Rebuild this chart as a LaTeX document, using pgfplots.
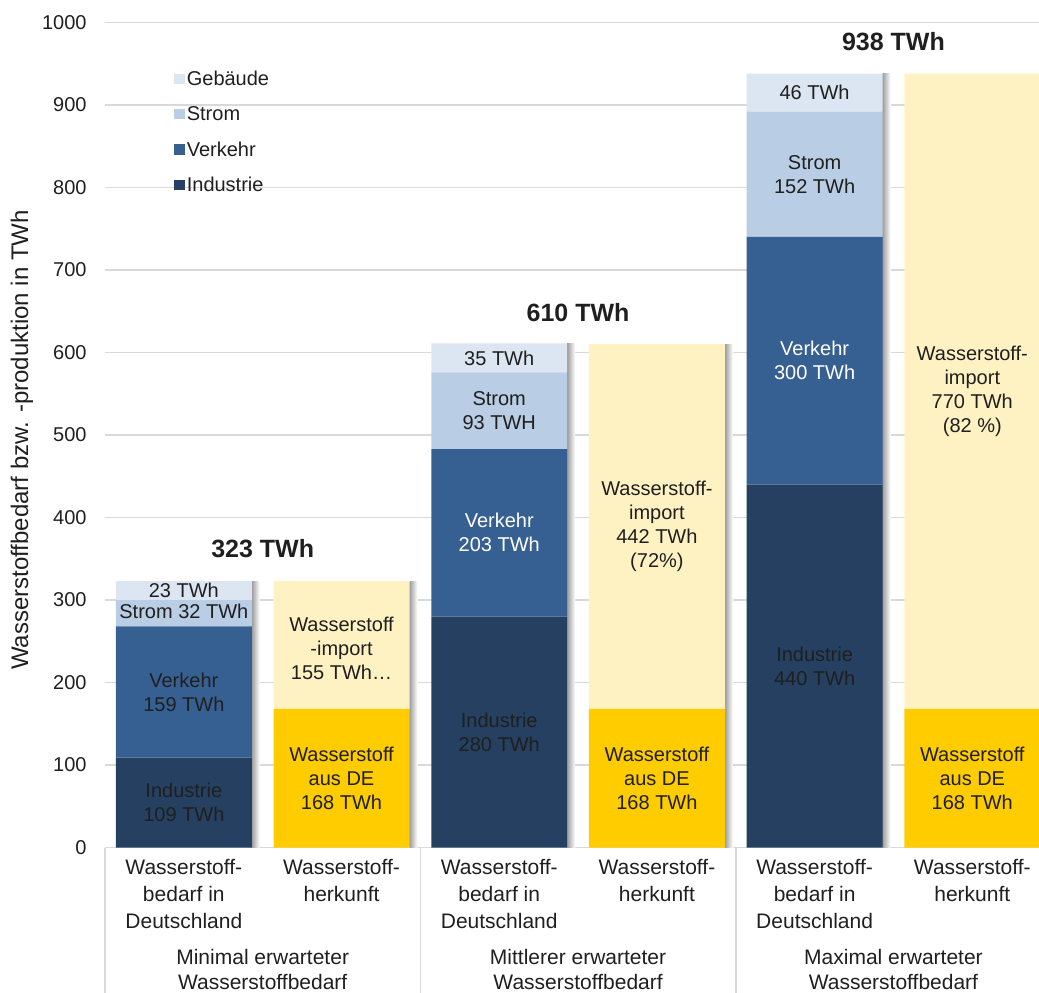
\documentclass[border=0pt]{standalone}
\usepackage{fontspec}
\setmainfont{Liberation Sans}
\usepackage{pgfplots}
\pgfplotsset{compat=1.18}

\definecolor{industrie}{HTML}{254061}
\definecolor{verkehr}{HTML}{376092}
\definecolor{strom}{HTML}{B9CDE5}
\definecolor{gebaeude}{HTML}{DCE6F2}
\definecolor{hde}{HTML}{FFCC00}
\definecolor{himport}{HTML}{FFF2C2}
\definecolor{gridgray}{HTML}{D9D9D9}
\definecolor{txt}{HTML}{1F1F1F}

\pgfplotsset{
  base/.style={
    at={(52.5pt,72.25pt)}, anchor=south west,
    scale only axis, width=467pt, height=412.5pt,
    xmin=-0.5, xmax=5.423, ymin=0, ymax=1000,
    clip=false, axis line style={draw=none}, major tick length=0pt},
  shadow/.style={draw=none, left color=black!38, right color=white,
    bar width=0.05, bar shift=0.456},
}

\begin{document}
\begin{tikzpicture}[
  lbl/.style={font=\fontsize{10}{12}\selectfont, align=center, text=txt, inner sep=0pt},
  wlbl/.style={lbl, text=white},
  grp/.style={font=\fontsize{10.5}{12.5}\selectfont, align=center, text=txt, inner sep=0pt, anchor=north},
  tot/.style={font=\fontsize{12.5}{14}\selectfont\bfseries, text=txt, inner sep=0pt}]
\useasboundingbox (0,0) rectangle (519.5pt,496pt);

% Hintergrund: Gitterlinien und Schatten rechts neben den Säulen
\begin{axis}[base,
  ytick={0,100,...,1000}, yticklabels={}, xtick=\empty,
  ymajorgrids, grid style={draw=gridgray, line width=0.8pt},
  ybar]
\addplot[shadow] coordinates {(0,323)};
\addplot[shadow] coordinates {(1,323)};
\addplot[shadow] coordinates {(2,611)};
\addplot[shadow] coordinates {(3,610)};
\addplot[shadow] coordinates {(4,938)};
\addplot[shadow] coordinates {(5,938)};
\end{axis}

% Säulen, Achsen und Legende
\begin{axis}[base,
  ybar stacked, bar width=0.862,
  tick pos=left,
  ytick={0,100,...,1000},
  yticklabel style={font=\fontsize{10}{12}\selectfont, text=txt, inner sep=0pt,
    anchor=east, xshift=-9pt, /pgf/number format/1000 sep={},
    /pgf/number format/assume math mode=true},
  xtick={0,...,5},
  xticklabels={{Wasserstoff-\\bedarf in\\Deutschland},{Wasserstoff-\\herkunft},
               {Wasserstoff-\\bedarf in\\Deutschland},{Wasserstoff-\\herkunft},
               {Wasserstoff-\\bedarf in\\Deutschland},{Wasserstoff-\\herkunft}},
  xticklabel style={font=\fontsize{10.5}{13.5}\selectfont, text=txt, align=center,
    anchor=north, inner sep=0pt, yshift=-5.5pt},
  extra x ticks={-0.5,1.5,3.5},
  extra x tick labels={},
  extra x tick style={major tick length=72.5pt, tick align=outside,
    tick style={draw=gridgray, line width=0.8pt}},
  ylabel={Wasserstoffbedarf bzw. -produktion in TWh},
  ylabel style={font=\fontsize{12}{14}\selectfont, text=txt,
    at={(axis description cs:-0.0889,0.494)}, anchor=center},
  reverse legend,
  legend image code/.code={\fill[#1] (0pt,-2.6pt) rectangle (5.2pt,2.6pt);},
  legend style={at={(axis description cs:0.0739,0.944)}, anchor=north west,
    draw=none, fill=none, inner sep=0pt, row sep=8pt,
    font=\fontsize{10}{12}\selectfont, text=txt,
    nodes={inner sep=1pt, text height=7.2pt, text depth=0.5pt},
    /tikz/every even column/.append style={column sep=2pt}},
  legend cell align=left,
]
% Bedarf nach Sektoren
\addplot[fill=industrie, draw=none] coordinates {(0,109) (1,0) (2,280) (3,0) (4,440) (5,0)};
\addlegendentry{Industrie}
\addplot[fill=verkehr, draw=none] coordinates {(0,159) (1,0) (2,203) (3,0) (4,300) (5,0)};
\addlegendentry{Verkehr}
\addplot[fill=strom, draw=none] coordinates {(0,32) (1,0) (2,93) (3,0) (4,152) (5,0)};
\addlegendentry{Strom}
\addplot[fill=gebaeude, draw=none] coordinates {(0,23) (1,0) (2,35) (3,0) (4,46) (5,0)};
\addlegendentry{Gebäude}
% Herkunft: heimische Erzeugung und Import
\addplot[fill=hde, draw=none, forget plot] coordinates {(0,0) (1,168) (2,0) (3,168) (4,0) (5,168)};
\addplot[fill=himport, draw=none, forget plot] coordinates {(0,0) (1,155) (2,0) (3,442) (4,0) (5,770)};
\end{axis}

% Beschriftungen über den Säulen
\begin{axis}[base, xtick=\empty, ytick=\empty]
\node[lbl] at (axis cs:0,54.5) {Industrie\\109 TWh};
\node[lbl] at (axis cs:0,188.5) {Verkehr\\159 TWh};
\node[lbl] at (axis cs:0,286) {Strom 32 TWh};
\node[lbl] at (axis cs:0,311.5) {23 TWh};
\node[lbl] at (axis cs:1,84) {Wasserstoff\\aus DE\\168 TWh};
\node[lbl] at (axis cs:1,241) {Wasserstoff\\-import\\155 TWh…};

\node[lbl] at (axis cs:2,140) {Industrie\\280 TWh};
\node[wlbl] at (axis cs:2,381.5) {Verkehr\\203 TWh};
\node[lbl] at (axis cs:2,529.5) {Strom\\93 TWH};
\node[lbl] at (axis cs:2,593.5) {35 TWh};
\node[lbl] at (axis cs:3,84) {Wasserstoff\\aus DE\\168 TWh};
\node[lbl] at (axis cs:3,389) {Wasserstoff-\\import\\442 TWh\\(72\%)};

\node[lbl] at (axis cs:4,220) {Industrie\\440 TWh};
\node[wlbl] at (axis cs:4,590) {Verkehr\\300 TWh};
\node[lbl] at (axis cs:4,816) {Strom\\152 TWh};
\node[lbl] at (axis cs:4,915) {46 TWh};
\node[lbl] at (axis cs:5,84) {Wasserstoff\\aus DE\\168 TWh};
\node[lbl] at (axis cs:5,553) {Wasserstoff-\\import\\770 TWh\\(82 \%)};

% Summen je Szenario
\node[tot] at (axis cs:0.5,323) [yshift=16pt] {323 TWh};
\node[tot] at (axis cs:2.5,610) [yshift=16pt] {610 TWh};
\node[tot] at (axis cs:4.5,938) [yshift=16pt] {938 TWh};

% Szenariobezeichnungen
\node[grp] at (axis cs:0.5,0) [yshift=-50.5pt] {Minimal erwarteter\\Wasserstoffbedarf};
\node[grp] at (axis cs:2.5,0) [yshift=-50.5pt] {Mittlerer erwarteter\\Wasserstoffbedarf};
\node[grp] at (axis cs:4.5,0) [yshift=-50.5pt] {Maximal erwarteter\\Wasserstoffbedarf};
\end{axis}
\end{tikzpicture}
\end{document}
